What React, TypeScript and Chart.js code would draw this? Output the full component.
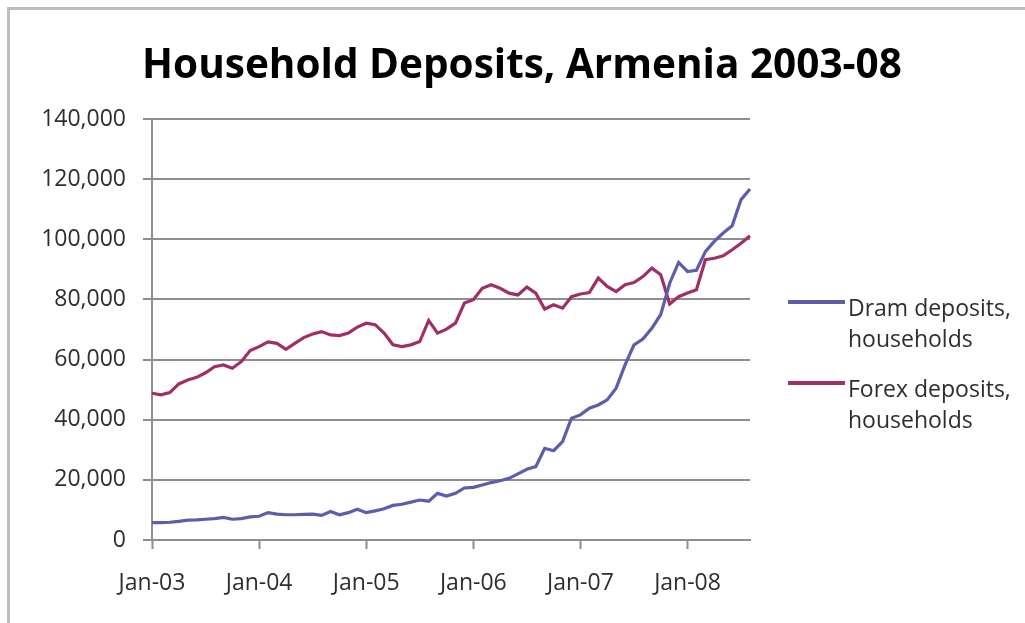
import React, { useEffect, useRef } from 'react';
import { Chart, registerables } from 'chart.js';

Chart.register(...registerables);

const TITLE = 'Household Deposits, Armenia 2003-08';

const categories = [
  'Jan-03', 'Feb-03', 'Mar-03', 'Apr-03', 'May-03', 'Jun-03', 'Jul-03', 'Aug-03', 'Sep-03', 'Oct-03', 'Nov-03', 'Dec-03',
  'Jan-04', 'Feb-04', 'Mar-04', 'Apr-04', 'May-04', 'Jun-04', 'Jul-04', 'Aug-04', 'Sep-04', 'Oct-04', 'Nov-04', 'Dec-04',
  'Jan-05', 'Feb-05', 'Mar-05', 'Apr-05', 'May-05', 'Jun-05', 'Jul-05', 'Aug-05', 'Sep-05', 'Oct-05', 'Nov-05', 'Dec-05',
  'Jan-06', 'Feb-06', 'Mar-06', 'Apr-06', 'May-06', 'Jun-06', 'Jul-06', 'Aug-06', 'Sep-06', 'Oct-06', 'Nov-06', 'Dec-06',
  'Jan-07', 'Feb-07', 'Mar-07', 'Apr-07', 'May-07', 'Jun-07', 'Jul-07', 'Aug-07', 'Sep-07', 'Oct-07', 'Nov-07', 'Dec-07',
  'Jan-08', 'Feb-08', 'Mar-08', 'Apr-08', 'May-08', 'Jun-08', 'Jul-08', 'Aug-08',
];

const dramDeposits = [
  5800, 5800, 5900, 6200, 6600, 6700, 6900, 7100, 7500, 6900, 7100, 7700,
  7900, 9100, 8600, 8400, 8400, 8500, 8600, 8200, 9500, 8400, 9100, 10200,
  9100, 9700, 10400, 11500, 11900, 12600, 13300, 12900, 15500, 14600, 15500, 17300,
  17500, 18300, 19100, 19700, 20500, 22000, 23500, 24400, 30500, 29700, 32700, 40500,
  41600, 43800, 44900, 46600, 50500, 58200, 64900, 66800, 70400, 75000, 85400, 92300,
  89300, 89700, 95900, 99300, 102100, 104500, 113200, 116700,
];

const forexDeposits = [
  48800, 48300, 49000, 51900, 53200, 54100, 55600, 57600, 58200, 57100, 59300, 63000,
  64300, 65900, 65400, 63400, 65400, 67300, 68500, 69300, 68200, 68000, 68800, 70800,
  72100, 71600, 68800, 64900, 64300, 64900, 66000, 73000, 68800, 70100, 72100, 78800,
  79900, 83700, 84900, 83700, 82100, 81500, 84100, 82100, 76800, 78200, 77100, 80900,
  81800, 82300, 87100, 84300, 82600, 84900, 85600, 87600, 90400, 88200, 78500, 80900,
  82100, 83200, 93200, 93700, 94500, 96500, 98700, 101200,
];

const seriesLabels = ['Dram deposits, households', 'Forex deposits, households'];
const legendLines = [
  ['Dram deposits,', 'households'],
  ['Forex deposits,', 'households'],
];
const seriesColors = ['#5b5ea8', '#a02f68'];

const AXIS_GRAY = '#8e8e8e';
const TEXT_COLOR = '#2e2e2e';
const FONT_FAMILY = '"Open Sans", "DejaVu Sans", sans-serif';

const overlayPlugin = {
  id: 'overlay',
  afterDraw(chart: any) {
    const ctx = chart.ctx as CanvasRenderingContext2D;
    ctx.save();
    // Title
    ctx.font = `bold 40.5px ${FONT_FAMILY}`;
    ctx.fillStyle = '#000000';
    ctx.textAlign = 'center';
    ctx.textBaseline = 'alphabetic';
    ctx.fillText(TITLE, 522, 78);

    // Legend
    ctx.font = `23px ${FONT_FAMILY}`;
    ctx.textAlign = 'left';
    legendLines.forEach((lines, i) => {
      const ds = chart.data.datasets[i];
      const y = 302 + i * 81;
      ctx.strokeStyle = ds.borderColor;
      ctx.lineWidth = 4;
      ctx.lineCap = 'butt';
      ctx.beginPath();
      ctx.moveTo(788, y);
      ctx.lineTo(845, y);
      ctx.stroke();
      ctx.fillStyle = TEXT_COLOR;
      lines.forEach((t, j) => {
        ctx.fillText(t, 848, y + 14 + j * 30.5);
      });
    });
    ctx.restore();
  },
};

export default function App() {
  const canvasRef = useRef<HTMLCanvasElement | null>(null);

  useEffect(() => {
    if (!canvasRef.current) return;
    const chart = new Chart(canvasRef.current, {
      type: 'line',
      data: {
        labels: categories,
        datasets: [
          {
            label: seriesLabels[0],
            data: dramDeposits,
            borderColor: seriesColors[0],
            backgroundColor: seriesColors[0],
            borderWidth: 3.2,
            pointRadius: 0,
            tension: 0,
            fill: false,
          },
          {
            label: seriesLabels[1],
            data: forexDeposits,
            borderColor: seriesColors[1],
            backgroundColor: seriesColors[1],
            borderWidth: 3.2,
            pointRadius: 0,
            tension: 0,
            fill: false,
          },
        ],
      },
      options: {
        animation: false,
        responsive: true,
        maintainAspectRatio: false,
        layout: { padding: { top: 119, right: 275, bottom: 0, left: 0 } },
        plugins: {
          legend: { display: false },
          title: { display: false },
          tooltip: { enabled: false },
        },
        scales: {
          x: {
            type: 'category',
            offset: false,
            grid: {
              drawOnChartArea: false,
              drawTicks: true,
              tickLength: 9,
              tickWidth: 2,
              tickColor: (c: any) =>
                categories[c.index] && categories[c.index].startsWith('Jan') ? AXIS_GRAY : 'rgba(0,0,0,0)',
            },
            border: { display: true, color: AXIS_GRAY, width: 2 },
            ticks: {
              autoSkip: false,
              maxRotation: 0,
              minRotation: 0,
              padding: 21,
              color: TEXT_COLOR,
              font: { family: FONT_FAMILY, size: 23 },
              callback: (_v: any, i: number) => (categories[i].startsWith('Jan') ? categories[i] : ''),
            },
            afterFit: (s: any) => {
              s.height = 83;
            },
          },
          y: {
            min: 0,
            max: 140000,
            grid: {
              color: AXIS_GRAY,
              lineWidth: 2,
              drawTicks: true,
              tickLength: 9,
            },
            border: { display: true, color: AXIS_GRAY, width: 2 },
            ticks: {
              stepSize: 20000,
              padding: 17,
              color: TEXT_COLOR,
              font: { family: FONT_FAMILY, size: 23 },
              callback: (v: any) => Number(v).toLocaleString('en-US'),
            },
            afterFit: (s: any) => {
              s.width = 152;
            },
          },
        },
      } as any,
      plugins: [overlayPlugin],
    });
    return () => chart.destroy();
  }, []);

  return (
    <>
      <div
        style={{
          position: 'fixed',
          left: 7,
          top: 7,
          right: 0,
          bottom: 0,
          borderTop: '3px solid #bdbdbd',
          borderLeft: '3px solid #bdbdbd',
          pointerEvents: 'none',
        }}
      />
      <div style={{ position: 'fixed', left: 0, top: 0, width: 1025, height: 623 }}>
        <canvas ref={canvasRef} />
      </div>
    </>
  );
}
